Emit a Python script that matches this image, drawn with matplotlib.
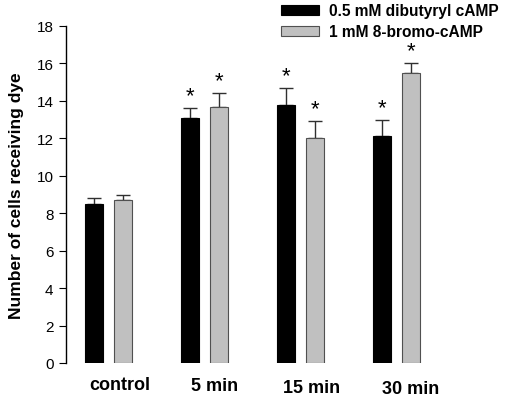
import numpy as np
import matplotlib
matplotlib.use("Agg")
import matplotlib.pyplot as plt
from matplotlib.transforms import blended_transform_factory
from matplotlib.patches import Patch

plt.rcParams['font.family'] = ['Liberation Sans', 'DejaVu Sans']

# Data
groups = ["control", "5 min", "15 min", "30 min"]
dibutyryl = [8.5, 13.1, 13.8, 12.1]
dibutyryl_err = [0.3, 0.5, 0.9, 0.9]
bromo = [8.7, 13.7, 12.0, 15.5]
bromo_err = [0.3, 0.7, 0.9, 0.5]
dibutyryl_sig = [False, True, True, True]
bromo_sig = [False, True, True, True]

fig = plt.figure(figsize=(5.06, 4.06), dpi=100)
ax = fig.add_axes([66 / 506, 42 / 406, 400 / 506, 337 / 406])

x = np.arange(len(groups))
w = 0.19
off = 0.151

ax.bar(x - off, dibutyryl, w, color="black", edgecolor="black", linewidth=0.8, zorder=2)
ax.bar(x + off, bromo, w, color="#c0c0c0", edgecolor="#505050", linewidth=0.8, zorder=2)

zeros = np.zeros(len(groups))
ax.errorbar(x - off, dibutyryl, yerr=[zeros, dibutyryl_err], fmt="none",
            ecolor="#303030", elinewidth=1, capsize=5, capthick=1, zorder=1)
ax.errorbar(x + off, bromo, yerr=[zeros, bromo_err], fmt="none",
            ecolor="#303030", elinewidth=1, capsize=5, capthick=1, zorder=1)

# significance stars
for i in range(len(groups)):
    if dibutyryl_sig[i]:
        ax.text(x[i] - off, dibutyryl[i] + dibutyryl_err[i] + 0.1, "*",
                ha="center", va="bottom", fontsize=16)
    if bromo_sig[i]:
        ax.text(x[i] + off, bromo[i] + bromo_err[i] + 0.1, "*",
                ha="center", va="bottom", fontsize=16)

ax.set_xlim(-0.443, 3.72)
ax.set_ylim(0, 18)
ax.set_yticks(np.arange(0, 19, 2))
ax.tick_params(axis="y", direction="out", length=5, labelsize=11, pad=4)
ax.set_xticks([])
for s in ["top", "right", "bottom"]:
    ax.spines[s].set_visible(False)
ax.spines["left"].set_linewidth(1)

ax.set_ylabel("Number of cells receiving dye", fontsize=12.5, fontweight="bold", labelpad=9)

# group labels, slightly staggered as in the original
trans = blended_transform_factory(ax.transData, ax.transAxes)
label_dx = [0.12, 0.10, 0.115, 0.14]
label_dy = [-0.064, -0.067, -0.074, -0.075]
for i, g in enumerate(groups):
    ax.text(x[i] + label_dx[i], label_dy[i], g, transform=trans,
            ha="center", va="center", fontsize=13, fontweight="bold")

handles = [Patch(facecolor="black", edgecolor="black", linewidth=0.8),
           Patch(facecolor="#c0c0c0", edgecolor="#505050", linewidth=0.8)]
fig.legend(handles, ["0.5 mM dibutyryl cAMP", "1 mM 8-bromo-cAMP"],
           loc="upper left", bbox_to_anchor=(272 / 506, 1.012), frameon=False,
           prop={"weight": "bold", "size": 11.2}, handlelength=2.4,
           handleheight=0.55, handletextpad=0.65, labelspacing=0.38, borderaxespad=0.2)

fig.savefig("out.png", dpi=100)
